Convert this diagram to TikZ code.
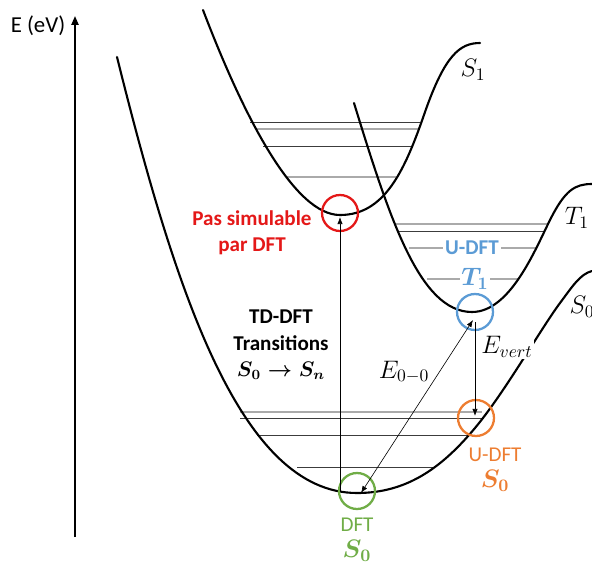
\documentclass[tikz,border=0pt]{standalone}
\usepackage{amsmath}
\usepackage{fontspec}
\setmainfont{Carlito}
\usetikzlibrary{arrows.meta}
\definecolor{redc}{RGB}{228,24,24}
\definecolor{bluec}{RGB}{91,155,213}
\definecolor{orangec}{RGB}{237,125,49}
\definecolor{greenc}{RGB}{112,173,71}
\definecolor{lvldark}{RGB}{60,60,60}
\definecolor{lvllight}{RGB}{170,170,170}

\begin{document}
\begin{tikzpicture}[x=0.02cm, y=-0.02cm,
  curve/.style={line width=1.2pt, line cap=round},
  lvl/.style={draw=lvldark, line width=0.5pt},
  lvlb/.style={draw=lvllight, line width=0.6pt},
  ring/.style={circle, line width=1.3pt, minimum size=0.72cm, inner sep=0pt},
  tr/.style={line width=0.35pt, -{Latex[length=4pt,width=3pt]}},
  lab/.style={font=\fontsize{12}{14}\selectfont, inner sep=1pt},
  mlab/.style={font=\fontsize{14}{16}\selectfont, inner sep=1pt},
  blab/.style={font=\fontsize{12}{15}\selectfont\bfseries, inner sep=1pt, align=center}]
\useasboundingbox (0,0) rectangle (592,565);
% axis
\coordinate (ax0) at (75,537);
\coordinate (ax1) at (75,16);
\draw[line width=1pt, -{Triangle[length=5pt,width=4pt]}] (ax0) -- (ax1);
\node[lab, font=\fontsize{13}{15}\selectfont] (eaxis) at (38,26) {E (eV)};
% vibrational levels
\draw[lvl] (250,122) -- (420,122);
\draw[lvlb] (255,129) -- (418,129);
\draw[lvl] (263,146) -- (411,146);
\draw[lvlb] (287,177) -- (396,177);
\draw[lvlb] (396,224) -- (547,224);
\draw[lvl] (399,231) -- (545,231);
\draw[lvlb] (409,248) -- (537,248);
\draw[lvlb] (427,279) -- (519,279);
\draw[lvlb] (240,412) -- (482,412);
\draw[lvl] (240,418) -- (484,418);
\draw[lvl] (257,435) -- (469,435);
\draw[lvl] (297,467) -- (434,467);
% potential curves
\draw[curve] (117,57) .. controls (175,290) and (240,493) .. (357,493)
  .. controls (405,493) and (440,470) .. (475,428)
  .. controls (505,392) and (540,330) .. (560,303)
  .. controls (572,287) and (580,274) .. (592,271);
\draw[curve] (203,10) .. controls (245,120) and (295,215) .. (340,215)
  .. controls (385,215) and (405,170) .. (425,112)
  .. controls (445,55) and (460,43) .. (480,43);
\draw[curve] (354,103) .. controls (390,220) and (420,312) .. (472,312)
  .. controls (510,312) and (535,250) .. (550,220)
  .. controls (565,190) and (575,184) .. (592,184);
% markers
\node[ring, draw=redc] (rS1) at (340,213) {};
\node[ring, draw=bluec] (bT1) at (475,312) {};
\node[ring, draw=orangec] (oS0) at (476,418) {};
\node[ring, draw=greenc] (gS0) at (357,491) {};
% transitions
\coordinate (s0v) at (340,492);
\coordinate (s1min) at (340,217);
\coordinate (s0min) at (361,493);
\coordinate (t1min) at (473,320);
\coordinate (t1v) at (475,322);
\coordinate (s0u) at (475,416);
\draw[tr] (s0v) -- (s1min);
\draw[tr, {Latex[length=4pt,width=3pt]}-{Latex[length=4pt,width=3pt]}] (s0min) -- (t1min);
\draw[tr] (t1v) -- (s0u);
% labels
\node[mlab] (ls1) at (473,70) {$S_1$};
\node[mlab] (lt1) at (577,218) {$T_1$};
\node[mlab] (ls0) at (582,307) {$S_0$};
\node[mlab, fill=white] (evert) at (507,347) {$E_{vert}$};
\node[mlab] (e00) at (404,372) {$E_{0-0}$};
\node[blab, text=redc] (nosim) at (252,233) {Pas simulable\\par DFT};
\node[blab] (tddft) at (281,345) {TD-DFT\\Transitions\\$\boldsymbol{S_0 \rightarrow S_n}$};
\node[blab, text=bluec, fill=white] (udftT) at (472,248) {U-DFT};
\node[mlab, text=bluec, fill=white] (lT1) at (475,279) {$\boldsymbol{T_1}$};
\node[lab, text=orangec] (udftS) at (495,455) {U-DFT};
\node[mlab, text=orangec] (lS0u) at (495,481) {$\boldsymbol{S_0}$};
\node[lab, text=greenc] (dft) at (357,525) {DFT};
\node[mlab, text=greenc] (lS0d) at (357,551) {$\boldsymbol{S_0}$};
\end{tikzpicture}
\end{document}
